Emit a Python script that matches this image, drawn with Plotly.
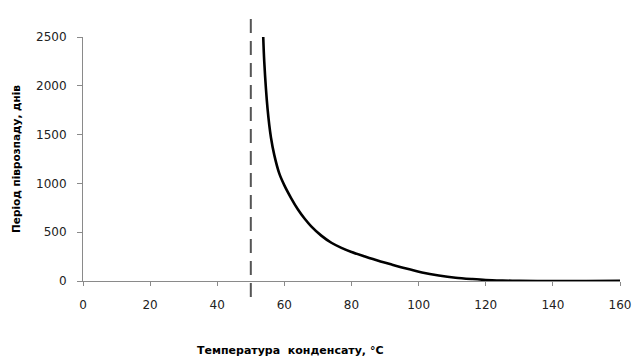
import plotly.graph_objects as go

# Data
temperature = [53.7, 54, 55, 56, 57, 58.5, 60, 62, 64, 66, 68, 71, 74, 77, 80, 84, 88,
               92, 96, 101, 106, 111, 116, 120, 125, 130, 140, 150, 160]
half_life_days = [2500, 2250, 1760, 1470, 1290, 1100, 980, 850, 735, 640, 560, 465, 392,
                  340, 298, 252, 208, 168, 130, 88, 57, 34, 20, 11, 5, 1, 0, 0, 2]
threshold_temp = 50
x_ticks = [0, 20, 40, 60, 80, 100, 120, 140, 160]
y_ticks = [0, 500, 1000, 1500, 2000, 2500]

x_title = "Температура  конденсату, °C"
y_title = "Період піврозпаду, днів"

fig = go.Figure()
fig.add_trace(go.Scatter(
    x=temperature, y=half_life_days, mode="lines",
    line=dict(color="black", width=2.6, shape="spline", smoothing=0.8),
    showlegend=False, hoverinfo="skip",
))

fig.add_shape(
    type="line", xref="x", yref="paper",
    x0=threshold_temp, x1=threshold_temp, y0=-0.066, y1=1.107,
    line=dict(color="#555555", width=2, dash="14px,8px"),
)

tick_font = dict(family="DejaVu Sans", size=12, color="#222222")

fig.update_layout(
    template="none",
    width=635, height=357,
    margin=dict(l=83, r=15, t=37, b=76),
    paper_bgcolor="white", plot_bgcolor="white",
    xaxis=dict(
        range=[0, 160], tickvals=x_ticks, showgrid=False, zeroline=False,
        showline=True, linecolor="#8a8a8a", linewidth=1,
        ticks="outside", ticklen=4, tickcolor="#8a8a8a",
        tickfont=tick_font, ticklabelstandoff=9, fixedrange=True,
        automargin=False,
    ),
    yaxis=dict(
        range=[0, 2500], tickvals=y_ticks, showgrid=False, zeroline=False,
        showline=True, linecolor="#8a8a8a", linewidth=1,
        ticks="outside", ticklen=5, tickcolor="#8a8a8a",
        tickfont=tick_font, ticklabelstandoff=8, fixedrange=True,
        automargin=False,
        title=dict(text="<b>" + y_title + "</b>",
                   font=dict(family="DejaVu Sans", size=10.5, color="black"),
                   standoff=13),
    ),
    annotations=[dict(
        text="<b>" + x_title + "</b>", xref="paper", yref="paper",
        x=0.385, y=-0.283, xanchor="center", yanchor="middle",
        showarrow=False, font=dict(family="DejaVu Sans", size=11, color="black"),
    )],
)

fig.write_html(
    "out.html",
    config={"displayModeBar": False, "staticPlot": True},
    post_script="document.body.style.margin='0';document.body.style.overflow='hidden';",
)
